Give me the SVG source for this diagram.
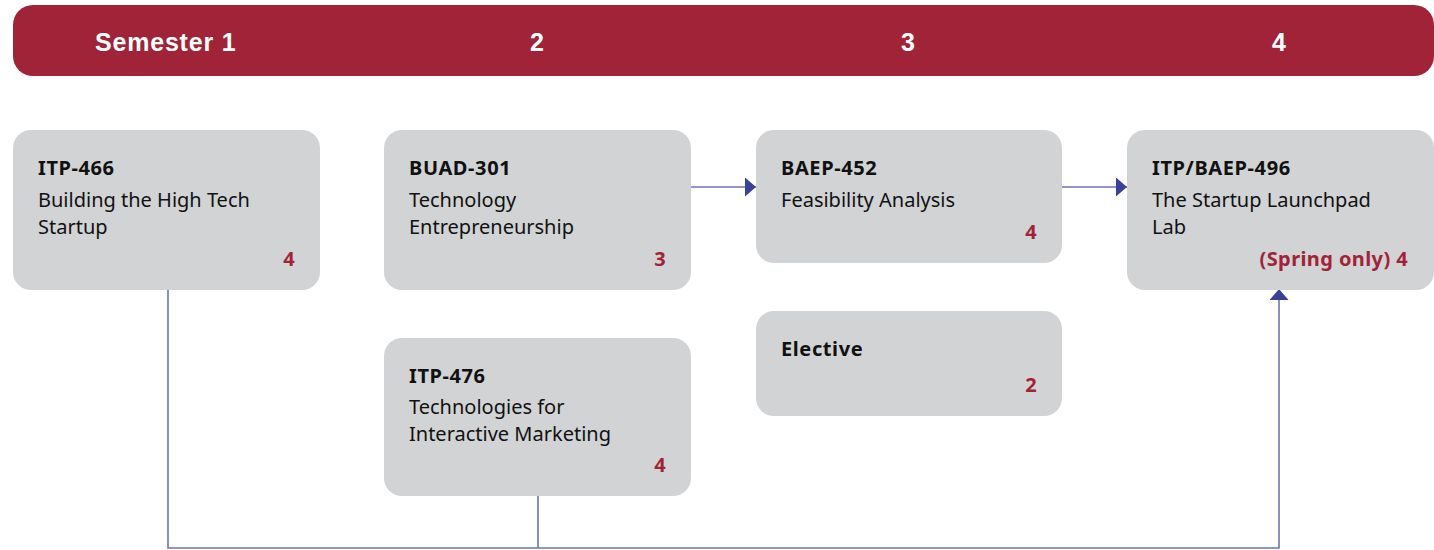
<svg xmlns="http://www.w3.org/2000/svg" width="1434" height="550" viewBox="0 0 1434 550">
<style>
.box{fill:#D2D3D5}
.hd{font-family:"Liberation Sans",Arial,sans-serif;font-weight:bold;font-size:25px;letter-spacing:0.8px;fill:#fff}
.t{font-family:"Noto Sans","Liberation Sans",sans-serif;font-weight:bold;font-size:20px;letter-spacing:0.6px;fill:#111}
.b{font-family:"Noto Sans","Liberation Sans",sans-serif;font-size:20px;fill:#111}
.c{font-family:"Noto Sans","Liberation Sans",sans-serif;font-weight:bold;font-size:20px;letter-spacing:0.4px;fill:#A02337;text-anchor:end}
.ln{fill:none;stroke:#6E72B4;stroke-width:1.6}
</style>
<defs>
<marker id="ah" markerWidth="11" markerHeight="19" refX="11" refY="9.5" orient="auto" markerUnits="userSpaceOnUse" viewBox="0 0 11 19">
<path d="M0,0 L11,9.5 L0,19 Z" fill="#3B4099"/>
</marker>
</defs>
<g id="header">
<rect x="13" y="5" width="1421" height="71" rx="20" fill="#A02337"/>
<text class="hd" x="95" y="51">Semester 1</text>
<text class="hd" x="530" y="51">2</text>
<text class="hd" x="901" y="51">3</text>
<text class="hd" x="1272" y="51">4</text>
</g>
<g id="connectors">
<line class="ln" x1="691" y1="187" x2="756" y2="187" marker-end="url(#ah)"/>
<line class="ln" x1="1062" y1="187" x2="1127" y2="187" marker-end="url(#ah)"/>
<polyline class="ln" points="168,290 168,548 1279,548 1279,289" marker-end="url(#ah)"/>
<line class="ln" x1="538" y1="496" x2="538" y2="548"/>
</g>
<g id="itp466">
<rect class="box" x="13" y="130" width="307" height="160" rx="18"/>
<text class="t" x="38" y="175">ITP-466</text>
<text class="b" x="38" y="207">Building the High Tech</text>
<text class="b" x="38" y="234">Startup</text>
<text class="c" x="295" y="266">4</text>
</g>
<g id="buad301">
<rect class="box" x="384" y="130" width="307" height="160" rx="18"/>
<text class="t" x="409" y="175">BUAD-301</text>
<text class="b" x="409" y="207">Technology</text>
<text class="b" x="409" y="234">Entrepreneurship</text>
<text class="c" x="666" y="266">3</text>
</g>
<g id="baep452">
<rect class="box" x="756" y="130" width="306" height="133" rx="18"/>
<text class="t" x="781" y="175">BAEP-452</text>
<text class="b" x="781" y="207">Feasibility Analysis</text>
<text class="c" x="1037" y="239">4</text>
</g>
<g id="itpbaep496">
<rect class="box" x="1127" y="130" width="307" height="160" rx="18"/>
<text class="t" x="1152" y="175">ITP/BAEP-496</text>
<text class="b" x="1152" y="207">The Startup Launchpad</text>
<text class="b" x="1152" y="234">Lab</text>
<text class="c" x="1408" y="266">(Spring only) 4</text>
</g>
<g id="elective">
<rect class="box" x="756" y="311" width="306" height="105" rx="18"/>
<text class="t" x="781" y="356">Elective</text>
<text class="c" x="1037" y="392">2</text>
</g>
<g id="itp476">
<rect class="box" x="384" y="338" width="307" height="158" rx="18"/>
<text class="t" x="409" y="383">ITP-476</text>
<text class="b" x="409" y="414">Technologies for</text>
<text class="b" x="409" y="441">Interactive Marketing</text>
<text class="c" x="666" y="472">4</text>
</g>
</svg>
